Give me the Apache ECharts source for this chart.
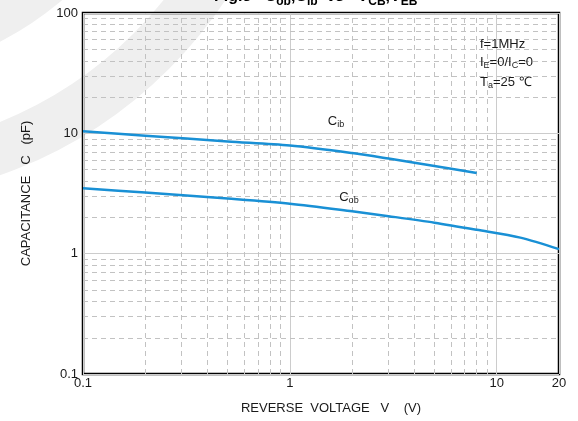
<!DOCTYPE html>
<html>
<head>
<meta charset="utf-8">
<script src="https://cdn.jsdelivr.net/npm/echarts@6/dist/echarts.min.js"></script>
<style>
  html, body { margin: 0; padding: 0; background: #fff; }
  #chart { width: 578px; height: 421px; }
</style>
</head>
<body>
<div id="chart"></div>
<script>
// Input capacitance Cib versus reverse voltage V_EB
const cibVoltage = [0.1, 0.2, 0.5, 1, 2, 3, 5, 8];
const cibValues  = [10.4, 9.56, 8.56, 7.92, 6.86, 6.17, 5.35, 4.68];

// Output capacitance Cob versus reverse voltage V_CB
const cobVoltage = [0.1, 0.2, 0.5, 1, 2, 3, 5, 8, 13, 20];
const cobValues  = [3.5, 3.22, 2.87, 2.6, 2.25, 2.05, 1.81, 1.58, 1.36, 1.09];

// Axis ticks
const xTickLabels = [0.1, 1, 10, 20];
const yTickLabels = [0.1, 1, 10, 100];

// Dashed minor grid: 2..9 within each decade
const minorSteps = [2, 3, 4, 5, 6, 7, 8, 9];
const xMinorDecades = [0.1, 1];
const yMinorDecades = [0.1, 1, 10];

const FONT = "'Liberation Sans', Arial, sans-serif";
const TEXT = '#1a1a1a';
const BLUE = '#1990d5';
const HAZE = '#efefef';

const clean = v => Number(Number(v).toPrecision(6));

const xMinor = [];
xMinorDecades.forEach(d => minorSteps.forEach(s => xMinor.push(clean(d * s))));
const yMinor = [];
yMinorDecades.forEach(d => minorSteps.forEach(s => yMinor.push(clean(d * s))));

const dashStyle = { type: [5, 4], color: '#c2c2c2', width: 1 };

const chart = echarts.init(document.getElementById('chart'), null, { renderer: 'canvas' });

const subRich = {
  s: { fontSize: 9, fontFamily: FONT, color: TEXT, padding: [7, 0, 0, 0] }
};

chart.setOption({
  animation: false,
  backgroundColor: '#fff',
  grid: {
    left: 83, top: 13, right: 19, bottom: 47,
    show: true, borderColor: '#000', borderWidth: 2.5,
    backgroundColor: 'transparent'
  },
  graphic: [
    // faint background swoosh
    { type: 'circle', z: -100, silent: true, shape: { cx: -150, cy: -250, r: 328 }, style: { fill: HAZE } },
    {
      type: 'arc', z: -100, silent: true,
      shape: { cx: -150, cy: -250, r: 426, startAngle: 0, endAngle: Math.PI / 2, clockwise: true },
      style: { stroke: HAZE, lineWidth: 50, fill: null }
    },
    {
      type: 'text', left: 214, top: -11, z: 100,
      style: {
        text: 'Fig.3   C{s|ob},C{s|ib}  vs   V{s|CB},V{s|EB}',
        font: 'bold 16px ' + FONT, fill: '#000',
        rich: { s: { fontSize: 12, fontWeight: 'bold', fontFamily: FONT, fill: '#000', padding: [9, 0, 0, 0] } }
      }
    },
    {
      type: 'text', left: 480, top: 38, z: 100,
      style: { text: 'f=1MHz', font: '13px ' + FONT, fill: TEXT }
    },
    {
      type: 'text', left: 480, top: 56, z: 100,
      style: { text: 'I{s|E}=0/I{s|C}=0', font: '13px ' + FONT, fill: TEXT, rich: subRich }
    },
    {
      type: 'text', left: 480, top: 76, z: 100,
      style: { text: 'T{s|a}=25 ℃', font: '13px ' + FONT, fill: TEXT, rich: subRich }
    }
  ],
  xAxis: {
    type: 'log', logBase: 10, min: 0.1, max: 20,
    name: 'REVERSE  VOLTAGE   V    (V)',
    nameLocation: 'middle', nameGap: 28,
    nameTextStyle: { fontFamily: FONT, fontSize: 13, color: TEXT, padding: [0, 0, 0, 20] },
    axisLine: { show: false }, axisTick: { show: false },
    axisLabel: {
      fontFamily: FONT, fontSize: 13, color: TEXT, margin: 3,
      formatter: v => xTickLabels.includes(clean(v)) ? String(clean(v)) : ''
    },
    splitLine: { show: true, lineStyle: { color: '#cccccc', width: 1 } }
  },
  yAxis: {
    type: 'log', logBase: 10, min: 0.1, max: 100,
    name: 'CAPACITANCE   C   (pF)',
    nameLocation: 'middle', nameGap: 50,
    nameTextStyle: { fontFamily: FONT, fontSize: 13, color: TEXT },
    axisLine: { show: false }, axisTick: { show: false },
    axisLabel: {
      fontFamily: FONT, fontSize: 13, color: TEXT, margin: 5,
      formatter: v => yTickLabels.includes(clean(v)) ? String(clean(v)) : ''
    },
    splitLine: { show: true, lineStyle: { color: '#cccccc', width: 1 } }
  },
  series: [
    {
      name: 'minor grid', type: 'line', data: [], z: 1, silent: true,
      markLine: {
        silent: true, symbol: ['none', 'none'], label: { show: false },
        lineStyle: dashStyle, animation: false,
        data: xMinor.map(v => ({ xAxis: v })).concat(yMinor.map(v => ({ yAxis: v })))
      }
    },
    {
      name: 'Cib', type: 'line', smooth: 0.3, symbol: 'none', z: 5,
      lineStyle: { color: BLUE, width: 2.5 },
      data: cibVoltage.map((v, i) => [v, cibValues[i]]),
      markPoint: {
        symbol: 'circle', symbolSize: 0, silent: true,
        data: [{ coord: [1.67, 12.6], value: 0 }],
        label: {
          show: true, position: 'inside', formatter: 'C{s|ib}',
          fontFamily: FONT, fontSize: 13, color: TEXT, rich: subRich
        }
      }
    },
    {
      name: 'Cob', type: 'line', smooth: 0.3, symbol: 'none', z: 5,
      lineStyle: { color: BLUE, width: 2.5 },
      data: cobVoltage.map((v, i) => [v, cobValues[i]]),
      markPoint: {
        symbol: 'circle', symbolSize: 0, silent: true,
        data: [{ coord: [1.93, 2.94], value: 0 }],
        label: {
          show: true, position: 'inside', formatter: 'C{s|ob}',
          fontFamily: FONT, fontSize: 13, color: TEXT, rich: subRich
        }
      }
    }
  ]
});
</script>
</body>
</html>
